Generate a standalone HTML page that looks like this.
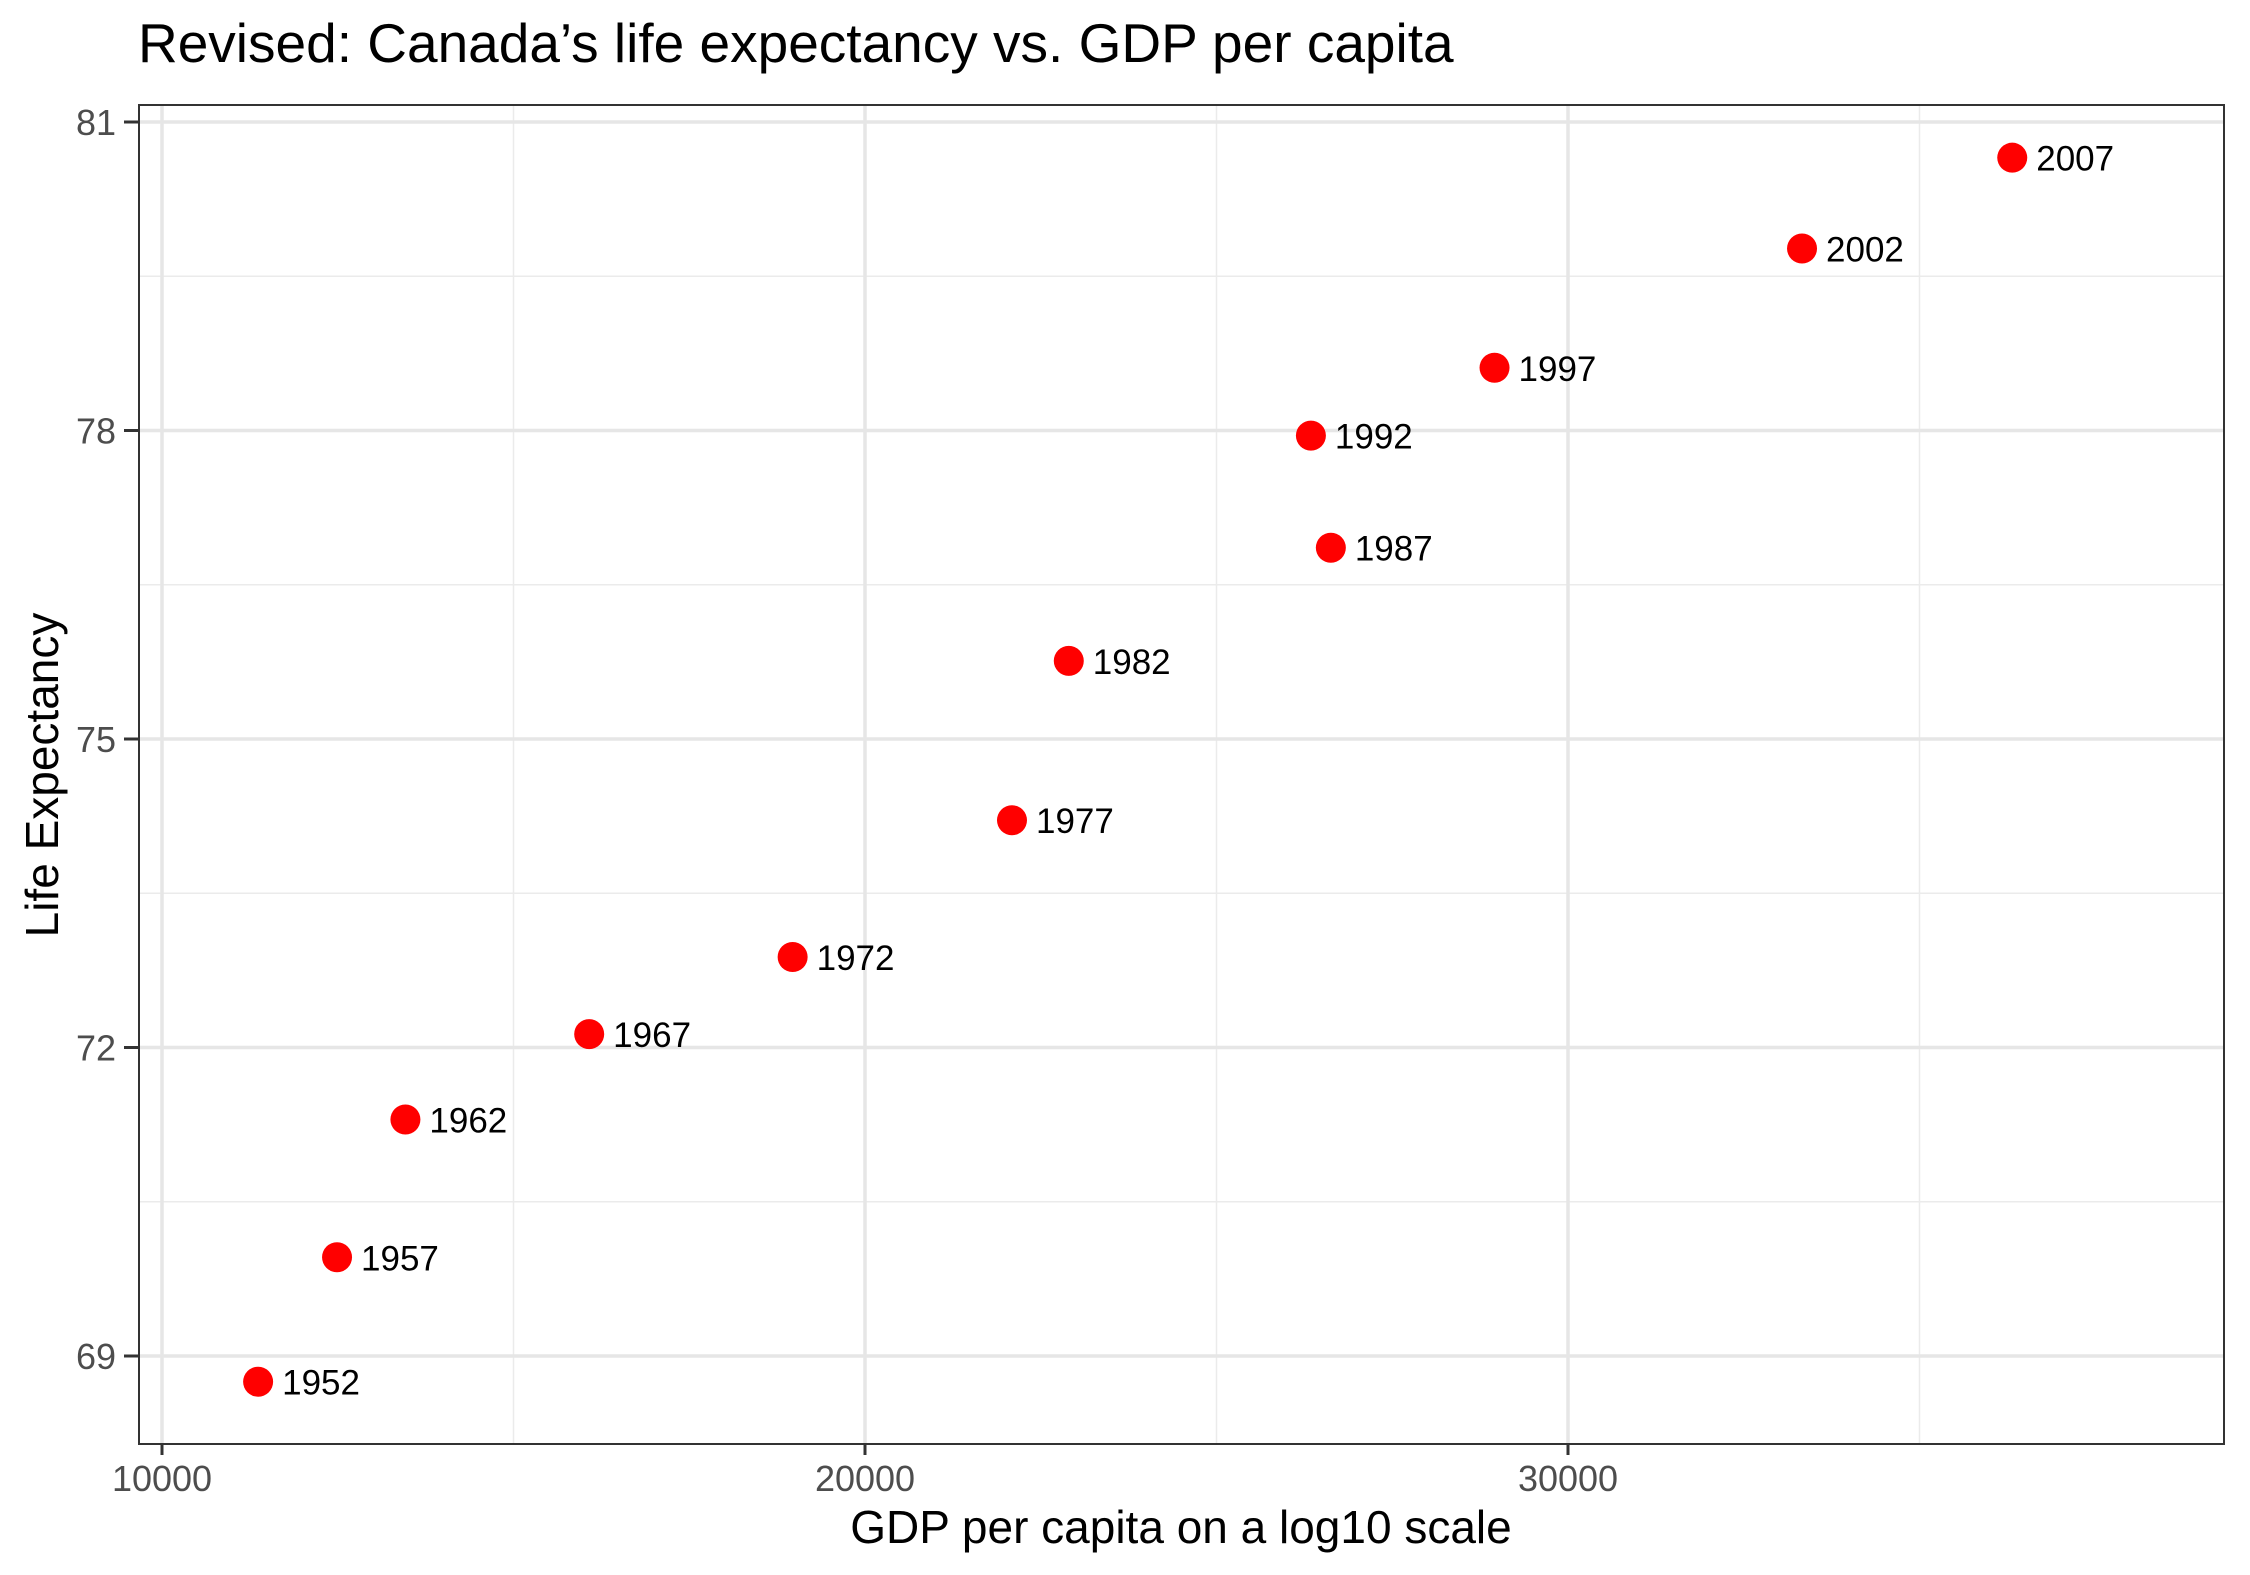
<!DOCTYPE html>
<html><head><meta charset="utf-8"><style>
html,body{margin:0;padding:0;background:#fff}
svg{display:block;font-family:"Liberation Sans",Arial,sans-serif}
</style></head><body>
<svg id="chart" width="2250" height="1575" viewBox="0 0 2250 1575">
<text x="138" y="62" font-size="55" fill="#000">Revised: Canada’s life expectancy vs. GDP per capita</text>
<g id="grid"></g>
<g id="points"></g>
<rect x="139" y="105" width="2085" height="1339" fill="none" stroke="#333" stroke-width="2"/>
<g id="axes"></g>
<text x="1181" y="1543" font-size="46" text-anchor="middle" fill="#000">GDP per capita on a log10 scale</text>
<text transform="translate(58,775) rotate(-90)" font-size="46" text-anchor="middle" fill="#000">Life Expectancy</text>
</svg>
<script>
const years = [1952,1957,1962,1967,1972,1977,1982,1987,1992,1997,2002,2007];
const gdp = [11367.16,12489.95,13462.49,16076.59,18970.57,22090.88,22898.79,26626.52,26342.88,28954.93,33328.97,36319.24];
const lifeExp = [68.75,69.96,71.3,72.13,72.88,74.21,75.76,76.86,77.95,78.61,79.77,80.653];
const xTicks = [10000,20000,30000];
const xMinor = [15000,25000,35000];
const yTicks = [69,72,75,78,81];
const yMinor = [70.5,73.5,76.5,79.5];

const L=139,R=2224,T=105,B=1444;
function sx(v){return 162+(v-10000)*(703/10000);}
function sy(v){return 1356-(v-69)*((1356-122)/12);}
const NS="http://www.w3.org/2000/svg";
function mk(tag,attrs,parent){const e=document.createElementNS(NS,tag);for(const k in attrs)e.setAttribute(k,attrs[k]);parent.appendChild(e);return e;}
const grid=document.getElementById('grid'),axes=document.getElementById('axes'),pts=document.getElementById('points');

yMinor.forEach(v=>{const e=mk('line',{x1:L,x2:R,y1:sy(v),y2:sy(v),stroke:'#ebebeb','stroke-width':1.5},grid);

});
xMinor.forEach(v=>{const e=mk('line',{x1:sx(v),x2:sx(v),y1:T,y2:B,stroke:'#ebebeb','stroke-width':1.5},grid);

});
yTicks.forEach(v=>{const e=mk('line',{x1:L,x2:R,y1:sy(v),y2:sy(v),stroke:'#e6e6e6','stroke-width':3.5},grid);


const t=mk('line',{x1:124,x2:L,y1:sy(v),y2:sy(v),stroke:'#333','stroke-width':3},axes);


const l=mk('text',{x:116,y:sy(v)+13,'font-size':36,'text-anchor':'end',fill:'#4d4d4d'},axes);l.textContent=v;

});
xTicks.forEach(v=>{const e=mk('line',{x1:sx(v),x2:sx(v),y1:T,y2:B,stroke:'#e6e6e6','stroke-width':3.5},grid);


const t=mk('line',{x1:sx(v),x2:sx(v),y1:B,y2:1455,stroke:'#333','stroke-width':3},axes);


const l=mk('text',{x:sx(v),y:1491,'font-size':36,'text-anchor':'middle',fill:'#4d4d4d'},axes);l.textContent=v;

});

years.forEach((yr,i)=>{const x=sx(gdp[i]),y=sy(lifeExp[i]);
const c=mk('circle',{cx:x,cy:y,r:15,fill:'#ff0000'},pts);


const t=mk('text',{x:x+24,y:y+13,'font-size':35,fill:'#000'},pts);t.textContent=yr;

});
</script>
</body></html>
